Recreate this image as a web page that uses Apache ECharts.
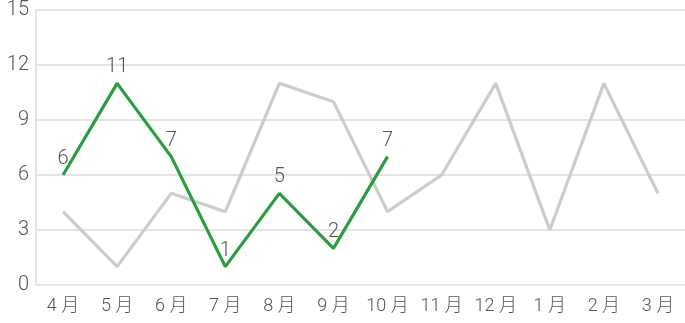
<!DOCTYPE html>
<html><head><meta charset="utf-8">
<script src="https://cdn.jsdelivr.net/npm/echarts@6/dist/echarts.min.js"></script>
<style>html,body{margin:0;padding:0;background:#fff}#c{width:685px;height:323px}</style>
</head><body><div id="c"></div>
<script>
var categories = ['4月','5月','6月','7月','8月','9月','10月','11月','12月','1月','2月','3月'];
var prevYear = [4, 1, 5, 4, 11, 10, 4, 6, 11, 3, 11, 5];
var thisYear = [6, 11, 7, 1, 5, 2, 7];
var yTicks = [0, 3, 6, 9, 12, 15];

var font = 'Roboto, "Noto Sans CJK JP", sans-serif';
var chart = echarts.init(document.getElementById('c'));
chart.setOption({
  animation: false,
  grid: { left: 36, right: 0, top: 8, bottom: 38 },
  xAxis: {
    type: 'category', data: categories, boundaryGap: true,
    axisLine: { show: false }, axisTick: { show: false },
    axisLabel: { color: '#555', fontSize: 18, fontWeight: 300, fontFamily: font, margin: 13, interval: 0,
      formatter: function (v) { return v.replace('月', ' 月'); } }
  },
  yAxis: {
    type: 'value', min: yTicks[0], max: yTicks[yTicks.length - 1], interval: 3,
    axisLine: { show: true, lineStyle: { color: '#e4e4e4', width: 2 } },
    axisTick: { show: false },
    splitLine: { lineStyle: { color: '#e4e4e4', width: 2 } },
    axisLabel: { color: '#555', fontSize: 20, fontWeight: 300, fontFamily: font, margin: 7 }
  },
  series: [
    { type: 'line', data: prevYear, symbol: 'none', lineStyle: { color: '#cccccc', width: 3.2 }, z: 1 },
    { type: 'line', data: thisYear, symbol: 'circle', symbolSize: 0, showSymbol: true,
      itemStyle: { color: '#2a9d3f' }, lineStyle: { color: '#2a9d3f', width: 3.2 }, z: 2,
      label: { show: true, position: 'top', color: '#555', fontSize: 20, fontWeight: 300, fontFamily: font, distance: 6 } }
  ]
});
</script></body></html>
